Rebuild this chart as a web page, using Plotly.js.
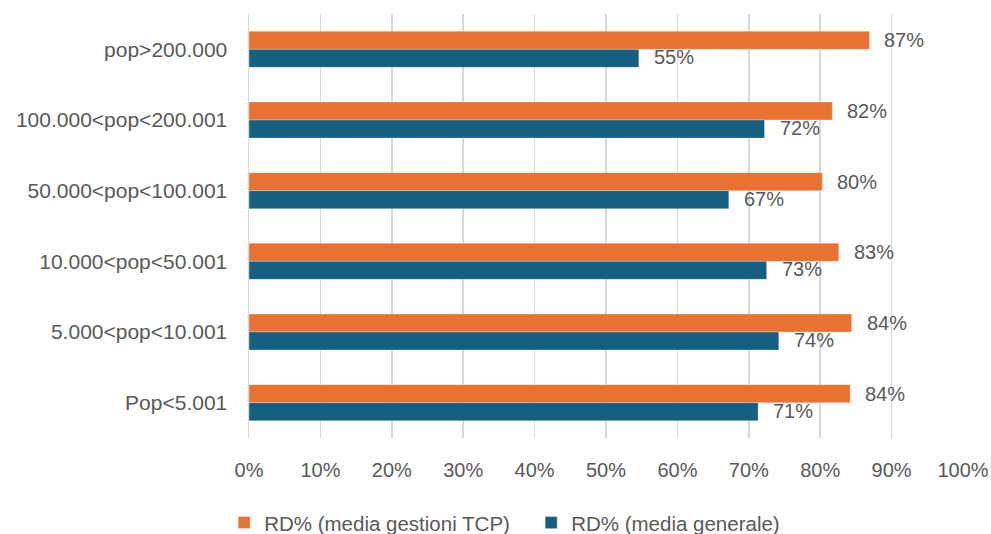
<!DOCTYPE html>
<html>
<head>
<meta charset="utf-8">
<script src="https://cdn.plot.ly/plotly-3.0.1.min.js"></script>
<style>html,body{margin:0;padding:0;background:#fff;}#chart{width:991px;height:534px;}</style>
</head>
<body>
<div id="chart"></div>
<script>
// Data (categories listed top to bottom)
const categories = ["pop>200.000", "100.000<pop<200.001", "50.000<pop<100.001", "10.000<pop<50.001", "5.000<pop<10.001", "Pop<5.001"];
const tcpValues = [0.869, 0.817, 0.803, 0.826, 0.844, 0.842];
const generaleValues = [0.546, 0.722, 0.672, 0.725, 0.742, 0.713];
const tcpName = "RD% (media gestioni TCP)";
const generaleName = "RD% (media generale)";
const xTickVals = [0, 0.1, 0.2, 0.3, 0.4, 0.5, 0.6, 0.7, 0.8, 0.9, 1.0];
const xTickText = ["0%", "10%", "20%", "30%", "40%", "50%", "60%", "70%", "80%", "90%", "100%"];

const ORANGE = "#E97132";
const BLUE = "#156082";
const TXT = "#595959";
const FONT = "Liberation Sans, Arial, sans-serif";
const BARGAP = 0.49;

const traces = [
  {type: "bar", orientation: "h", name: tcpName, y: categories, x: tcpValues,
   marker: {color: ORANGE, line: {color: "rgba(255,255,255,0.6)", width: 0.5}}, hoverinfo: "x+y"},
  {type: "bar", orientation: "h", name: generaleName, y: categories, x: generaleValues,
   marker: {color: BLUE, line: {color: "rgba(255,255,255,0.6)", width: 0.5}}, hoverinfo: "x+y"}
];

const half = (1 - BARGAP) / 4;
const annotations = [];
categories.forEach((c, i) => {
  annotations.push({x: tcpValues[i], y: i - half, xref: "x", yref: "y", text: Math.round(tcpValues[i] * 100) + "%",
    showarrow: false, xanchor: "left", yanchor: "middle", xshift: 13, yshift: 0, font: {family: FONT, size: 20, color: TXT}});
  annotations.push({x: generaleValues[i], y: i + half, xref: "x", yref: "y", text: Math.round(generaleValues[i] * 100) + "%",
    showarrow: false, xanchor: "left", yanchor: "middle", xshift: 13, yshift: 1, font: {family: FONT, size: 20, color: TXT}});
});

const layout = {
  width: 991, height: 534,
  margin: {l: 248.5, r: 28, t: 14, b: 96, pad: 0},
  paper_bgcolor: "#fff", plot_bgcolor: "#fff",
  barmode: "group", bargap: BARGAP, bargroupgap: 0,
  font: {family: FONT, color: TXT, size: 20},
  xaxis: {range: [0, 1.0], tickvals: xTickVals, ticktext: xTickText, showgrid: true, gridcolor: "#D9D9D9", gridwidth: 1.5,
    zeroline: false, showline: false, ticks: "", ticklabelstandoff: 18, tickfont: {family: FONT, size: 20, color: TXT}, fixedrange: true},
  yaxis: {type: "category", autorange: "reversed", showgrid: false, zeroline: false, showline: true, linecolor: "#D9D9D9", linewidth: 1.5,
    ticks: "", ticklabelstandoff: 16, tickfont: {family: FONT, size: 21, color: TXT}, fixedrange: true},
  showlegend: true,
  legend: {orientation: "h", xref: "container", yref: "container", x: 0.536, xanchor: "center", y: 0.021, yanchor: "middle",
    font: {family: FONT, size: 20.5, color: TXT}, itemwidth: 30, traceorder: "normal", entrywidth: 262, entrywidthmode: "pixels"},
  annotations: annotations
};

Plotly.newPlot("chart", traces, layout, {displayModeBar: false, staticPlot: true});
</script>
</body>
</html>
